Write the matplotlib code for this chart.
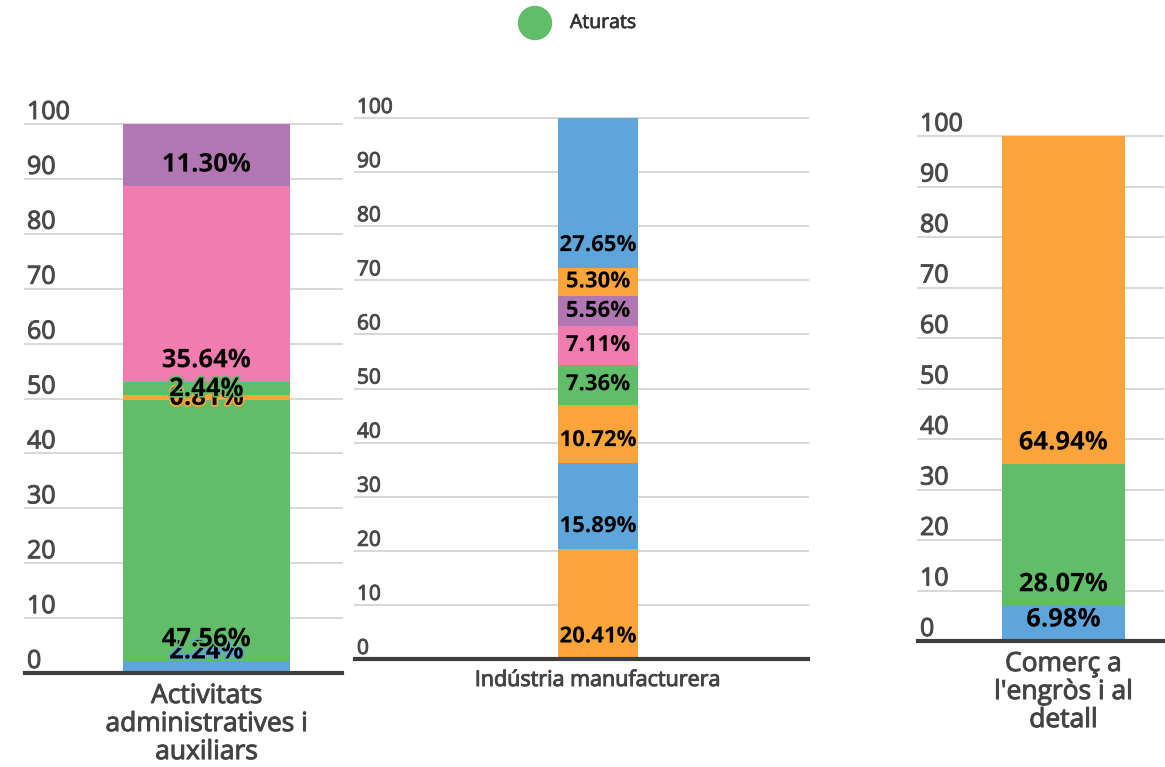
import matplotlib
matplotlib.use("Agg")
import matplotlib.pyplot as plt
from matplotlib import patheffects as pe
from matplotlib.patches import Ellipse
from matplotlib.transforms import blended_transform_factory

plt.rcParams['font.family'] = ['Open Sans', 'DejaVu Sans']

BLUE = '#5DA5DA'
ORANGE = '#FAA43A'
GREEN = '#60BD68'
PINK = '#F17CB0'
PURPLE = '#B276B2'

# --- data (bottom to top of each stacked bar) ---
cat1 = "Activitats\nadministratives i\nauxiliars"
vals1 = [2.24, 47.56, 0.81, 2.44, 35.64, 11.30]
cols1 = [BLUE, GREEN, ORANGE, GREEN, PINK, PURPLE]

cat2 = "Indústria manufacturera"
vals2 = [20.41, 15.89, 10.72, 7.36, 7.11, 5.56, 5.30, 27.65]
cols2 = [ORANGE, BLUE, ORANGE, GREEN, PINK, PURPLE, ORANGE, BLUE]

cat3 = "Comerç a\nl'engròs i al\ndetall"
vals3 = [6.98, 28.07, 64.94]
cols3 = [BLUE, GREEN, ORANGE]

yticks = [0, 10, 20, 30, 40, 50, 60, 70, 80, 90, 100]
legend_label = "Aturats"

W, H = 1165, 767
fig = plt.figure(figsize=(W / 100, H / 100), dpi=100)

TICK_C = '#4a4a4a'
CAT_C = '#444444'
heavy_tick = [pe.withStroke(linewidth=0.7, foreground=TICK_C)]
heavy_cat = [pe.withStroke(linewidth=0.7, foreground=CAT_C)]


def panel(x0, x1, y_top, y_base, bx0, bx1, vals, cols, cat, tick_fs, lab_fs, cat_fs, cat_ls):
    ax = fig.add_axes([x0 / W, 1 - y_base / H, (x1 - x0) / W, (y_base - y_top) / H])
    ax.set_xlim(x0, x1)
    ax.set_ylim(0, 100)
    ppu = (y_base - y_top) / 100.0
    for v in yticks[1:]:
        ax.axhline(v, color='#d9d9d9', lw=1.5, zorder=0, clip_on=False)
    bottom = 0
    for v, c in zip(vals, cols):
        ax.bar((bx0 + bx1) / 2, v, width=bx1 - bx0, bottom=bottom, color=c, zorder=2)
        bottom += v
    # data labels: near segment bottom, kept inside the plot
    bottom = 0
    for v, c in zip(vals, cols):
        h = v * ppu
        off = bottom * ppu + min(22, h / 2)
        off = max(off, 22)
        ax.annotate(f"{v:.2f}%", xy=((bx0 + bx1) / 2, 0), xytext=(0, off),
                    textcoords='offset pixels', ha='center', va='center',
                    fontsize=lab_fs, fontweight='bold', color='black', zorder=5,
                    path_effects=[pe.withStroke(linewidth=2.5, foreground=c)])
        bottom += v
    ax.axhline(0, color='#3d3d3d', lw=3, zorder=4, clip_on=False)
    tr = blended_transform_factory(ax.transAxes, ax.transData)
    for t in yticks:
        ax.annotate(str(t), xy=(0, t), xycoords=tr, xytext=(2, 5),
                    textcoords='offset pixels', ha='left', va='baseline',
                    fontsize=tick_fs, color=TICK_C, path_effects=heavy_tick)
    ax.annotate(cat, xy=((bx0 + bx1) / 2, 0), xytext=(0, -11),
                textcoords='offset pixels', ha='center', va='top',
                fontsize=cat_fs, color=CAT_C, linespacing=cat_ls, path_effects=heavy_cat)
    ax.axis('off')
    return ax


panel(25, 342, 124, 673, 123, 290, vals1, cols1, cat1, 18, 18.5, 19, 1.16)
panel(355, 808, 118, 659, 558, 638, vals2, cols2, cat2, 15, 16, 15.5, 1.1)
panel(918, 1163, 136, 641, 1002, 1125, vals3, cols3, cat3, 18, 18.5, 19, 1.16)

# legend
fig.add_artist(Ellipse((535 / W, 1 - 23 / H), 33 / W, 33 / H, transform=fig.transFigure,
                       color=GREEN))
fig.text(570 / W, 1 - 23 / H, legend_label, ha='left', va='center', fontsize=14,
         color='#333333', path_effects=[pe.withStroke(linewidth=0.5, foreground='#333333')])

fig.savefig("out.png", dpi=100)
